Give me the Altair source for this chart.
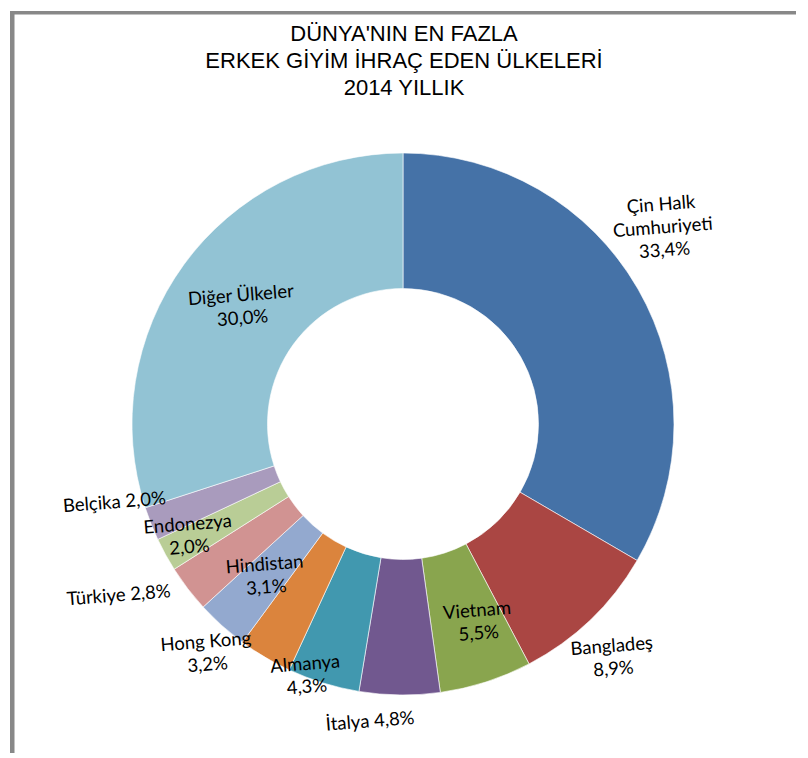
import altair as alt
import pandas as pd

# ---- data ----
countries = ["Çin Halk Cumhuriyeti", "Bangladeş", "Vietnam", "İtalya", "Almanya",
             "Hong Kong", "Hindistan", "Türkiye", "Endonezya", "Belçika", "Diğer Ülkeler"]
shares = [33.4, 8.9, 5.5, 4.8, 4.3, 3.2, 3.1, 2.8, 2.0, 2.0, 30.0]
label_names = ["Çin Halk\nCumhuriyeti", "Bangladeş", "Vietnam", "İtalya", "Almanya",
               "Hong Kong", "Hindistan", "Türkiye", "Endonezya", "Belçika", "Diğer Ülkeler"]
pct_new_line = [True, True, True, False, True, True, True, False, True, False, True]
colors = ["#4572A7", "#AA4643", "#89A54E", "#71588F", "#4198AF", "#DB843D",
          "#93A9CF", "#D19392", "#B9CD96", "#A99BBD", "#92C3D4"]
title_lines = ["DÜNYA'NIN EN FAZLA", "ERKEK GİYİM İHRAÇ EDEN ÜLKELERİ", "2014 YILLIK"]

labels = [
    n + ("\n" if nl else " ") + f"{v:.1f}".replace(".", ",") + "%"
    for n, v, nl in zip(label_names, shares, pct_new_line)
]
df = pd.DataFrame({"country": countries, "share": shares, "idx": list(range(len(countries))),
                   "label": labels})
title_df = pd.DataFrame({"title": ["\n".join(title_lines)]})

# ---- layout ----
W, H = 786, 742
CX, CY = 393, 413          # donut centre inside the view
R_OUT, R_IN = 271, 135.5
LABEL_LH = 23
label_layout = {  # idx: (radius, dx, dy) — manual Excel-like label placement (block centre)
    0: (328, -22, -35),
    1: (314, -8, 6),
    2: (213, 10, -4),
    3: (298, -29, -3),
    4: (270, -17, -8),
    5: (302, -40, -34),
    6: (207, 1, -2),
    7: (330, -20, -31),
    8: (242, -2, -5),
    9: (297, -10, -32),
    10: (198, -1, -1),
}

base = alt.Chart(df).encode(
    theta=alt.Theta("share:Q", stack=True),
    order=alt.Order("idx:Q", sort="ascending"),
    x=alt.value(CX),
    y=alt.value(CY),
)

arc = base.mark_arc(innerRadius=R_IN, outerRadius=R_OUT, stroke="white", strokeWidth=0.6).encode(
    color=alt.Color("country:N", scale=alt.Scale(domain=countries, range=colors), legend=None)
)

texts = []
for i, (r, dx, dy) in label_layout.items():
    n_lines = labels[i].count("\n") + 1
    texts.append(
        base.mark_text(radius=r, dx=dx, dy=dy - (n_lines - 1) * LABEL_LH / 2, angle=355.5,
                       font="Lato", fontSize=18.5, lineBreak="\n", lineHeight=LABEL_LH,
                       align="center", baseline="middle", color="black").encode(
            text=alt.condition(f"datum.idx == {i}", alt.Text("label:N"), alt.value(""))
        )
    )

title = alt.Chart(title_df).mark_text(
    font="Liberation Sans", fontSize=22, lineHeight=27, lineBreak="\n",
    align="center", baseline="middle", color="black"
).encode(text="title:N", x=alt.value(CX + 1), y=alt.value(23))

frame_left = alt.Chart(title_df).mark_rule(color="#888888", strokeWidth=4.5).encode(
    x=alt.value(2.25), y=alt.value(0), y2=alt.value(H)
)
frame_top = alt.Chart(title_df).mark_rule(color="#888888", strokeWidth=3.5).encode(
    x=alt.value(0), x2=alt.value(W), y=alt.value(1.75)
)

chart = alt.layer(frame_left, frame_top, arc, *texts, title).properties(
    width=W, height=H, padding=0,
).configure_view(stroke=None)

chart.save("out.html", embed_options={"renderer": "svg", "actions": False})
